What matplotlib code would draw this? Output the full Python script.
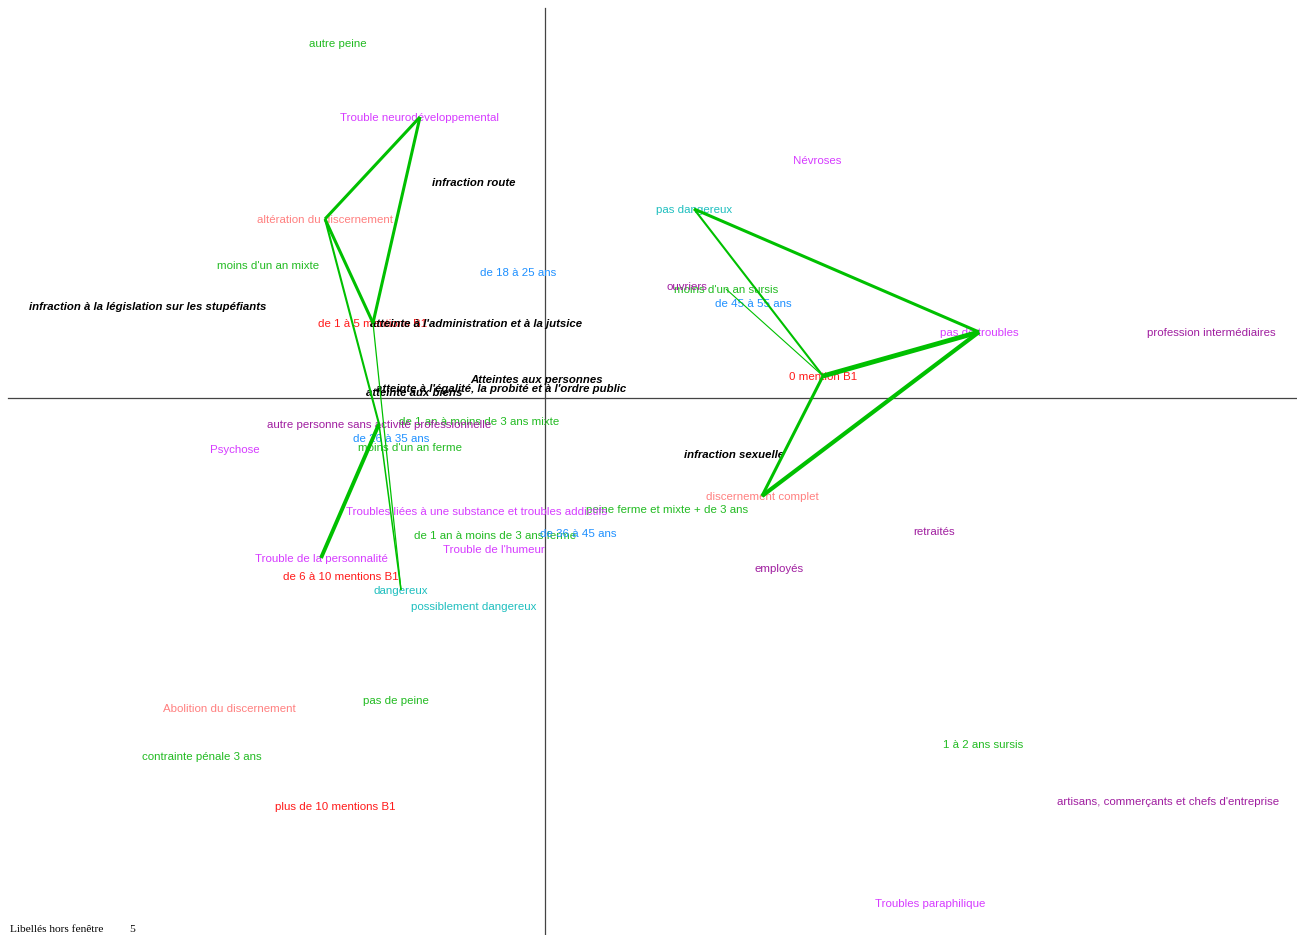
#!/usr/bin/env python
import matplotlib
matplotlib.use('Agg')
import matplotlib.pyplot as plt
from matplotlib.transforms import offset_copy

# factor map coordinates (axis 1, axis 2)
peine = ['autre peine', "moins d'un an mixte", "de 1 an à moins de 3 ans mixte",
         "moins d'un an ferme", 'peine ferme et mixte + de 3 ans',
         'de 1 an à moins de 3 ans ferme', 'pas de peine', 'contrainte pénale 3 ans',
         "moins d'un an sursis", '1 à 2 ans sursis']
peine_x = [-2.07, -2.77, -0.66, -1.35, 1.22, -0.50, -1.49, -3.43, 1.81, 4.38]
peine_y = [3.55, 1.33, -0.23, -0.49, -1.11, -1.37, -3.02, -3.58, 1.09, -3.46]

discernement = ['altération du discernement', 'Abolition du discernement', 'discernement complet']
discernement_x = [-2.20, -3.16, 2.17]
discernement_y = [1.79, -3.10, -0.98]

mentions = ['de 1 à 5 mentions B1', 'de 6 à 10 mentions B1', 'plus de 10 mentions B1', '0 mention B1']
mentions_x = [-1.72, -2.04, -2.10, 2.78]
mentions_y = [0.75, -1.78, -4.08, 0.22]

ages = ['de 18 à 25 ans', 'de 26 à 35 ans', 'de 36 à 45 ans', 'de 45 à 55 ans']
ages_x = [-0.27, -1.54, 0.33, 2.08]
ages_y = [1.26, -0.40, -1.35, 0.95]

troubles = ['Trouble neurodéveloppemental', 'Psychose',
            'Troubles liées à une substance et troubles addictifs', "Trouble de l'humeur",
            'Trouble de la personnalité', 'Névroses', 'pas de troubles', 'Troubles paraphilique']
troubles_x = [-1.25, -3.10, -0.68, -0.51, -2.24, 2.72, 4.34, 3.85]
troubles_y = [2.81, -0.51, -1.13, -1.51, -1.60, 2.38, 0.66, -5.05]

professions = ['autre personne sans activité professionnelle', 'ouvriers',
               'profession intermédiaires', 'retraités', 'employés',
               "artisans, commerçants et chefs d'entreprise"]
professions_x = [-1.66, 1.42, 6.66, 3.89, 2.34, 6.23]
professions_y = [-0.26, 1.12, 0.66, -1.33, -1.70, -4.03]

dangerosite = ['dangereux', 'possiblement dangereux', 'pas dangereux']
dangerosite_x = [-1.44, -0.71, 1.49]
dangerosite_y = [-1.92, -2.08, 1.89]

infractions = ['infraction route', 'infraction à la législation sur les stupéfiants',
               "atteinte à l'administration et à la jutsice", 'Atteintes aux personnes',
               "atteinte à l'égalité, la probité et à l'ordre public", 'atteinte aux biens',
               'infraction sexuelle']
infractions_x = [-0.71, -3.97, -0.69, -0.08, -0.44, -1.31, 1.89]
infractions_y = [2.16, 0.92, 0.75, 0.19, 0.10, 0.06, -0.56]

# links between modalities, with their weight
edges = [
    ('Trouble neurodéveloppemental', 'altération du discernement', 2.2),
    ('Trouble neurodéveloppemental', 'de 1 à 5 mentions B1', 2.2),
    ('altération du discernement', 'de 1 à 5 mentions B1', 2.2),
    ('altération du discernement', 'autre personne sans activité professionnelle', 1.5),
    ('de 1 à 5 mentions B1', 'dangereux', 0.9),
    ('autre personne sans activité professionnelle', 'dangereux', 1.1),
    ('autre personne sans activité professionnelle', 'Trouble de la personnalité', 2.8),
    ('pas dangereux', 'pas de troubles', 2.2),
    ('pas dangereux', '0 mention B1', 1.5),
    ('pas de troubles', '0 mention B1', 3.5),
    ('pas de troubles', 'discernement complet', 3.0),
    ('0 mention B1', 'discernement complet', 2.2),
    ("moins d'un an sursis", '0 mention B1', 0.8),
]

groups = [
    (peine, peine_x, peine_y, '#22bb22', 'normal'),
    (discernement, discernement_x, discernement_y, '#ff8080', 'normal'),
    (mentions, mentions_x, mentions_y, '#ff1a1a', 'normal'),
    (ages, ages_x, ages_y, '#1e90ff', 'normal'),
    (troubles, troubles_x, troubles_y, '#d63cff', 'normal'),
    (professions, professions_x, professions_y, '#a01ea0', 'normal'),
    (dangerosite, dangerosite_x, dangerosite_y, '#1fbfbf', 'normal'),
    (infractions, infractions_x, infractions_y, 'black', 'infr'),
]

XMIN, XMAX = -5.45, 7.52
YMIN, YMAX = -5.37, 3.98

fig = plt.figure(figsize=(12.97, 9.35), dpi=100)
ax = fig.add_axes([0, 0, 1, 1])
ax.set_xlim(XMIN, XMAX)
ax.set_ylim(YMIN, YMAX)
ax.axis('off')

# axes of the factor map
ax.plot([0, 0], [YMIN, 3.90], color='#444444', lw=0.9, zorder=1)
ax.plot([-5.37, XMAX], [0, 0], color='#444444', lw=0.9, zorder=1)

# labels sit a pixel lower than the point
trans = offset_copy(ax.transData, fig=fig, x=0, y=-1, units='dots')

pos = {}
for names, xs, ys, color, kind in groups:
    for name, x, y in zip(names, xs, ys):
        pos[name] = (x, y)
        if kind == 'infr':
            ax.text(x, y, name, color=color, ha='center', va='center',
                    fontsize=8.2, fontweight='bold', fontstyle='italic',
                    family='Liberation Sans', transform=trans, zorder=2)
        else:
            ax.text(x, y, name, color=color, ha='center', va='center',
                    fontsize=8.25, family='Liberation Sans', transform=trans, zorder=2)

for a, b, w in edges:
    xa, ya = pos[a]
    xb, yb = pos[b]
    ax.plot([xa, xb], [ya, yb], color='#00c000', lw=w, solid_capstyle='butt', zorder=3)

fig.text(10 / 1297, 1 - 929 / 935, 'Libellés hors fenêtre', family='Liberation Serif',
         fontsize=8.2, va='center', ha='left')
fig.text(129 / 1297, 1 - 929 / 935, '5', family='Liberation Serif',
         fontsize=8.2, va='center', ha='left')

fig.savefig('out.png', dpi=100)
